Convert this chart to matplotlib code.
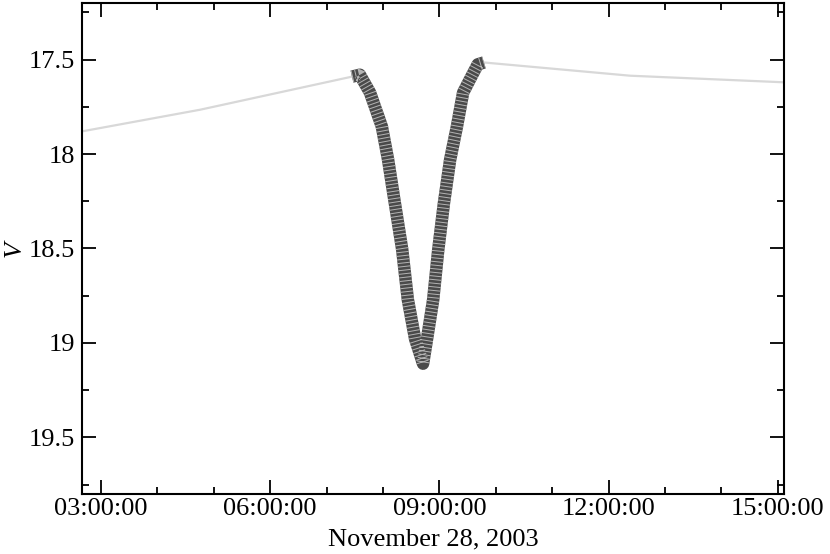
import matplotlib
matplotlib.use("Agg")
import matplotlib.pyplot as plt
from matplotlib.ticker import MultipleLocator, FuncFormatter
import numpy as np

# time in hours (UT, Nov 28 2003), V magnitude
t_pre = [2.66, 4.76, 7.45]
v_pre = [17.88, 17.765, 17.59]

t_ecl = [7.45, 7.59, 7.77, 7.98, 8.09, 8.21, 8.34, 8.44, 8.57, 8.71,
         8.78, 8.89, 8.98, 9.08, 9.19, 9.31, 9.42, 9.54, 9.68, 9.79]
v_ecl = [17.59, 17.58, 17.675, 17.855, 18.03, 18.26, 18.505, 18.77, 18.98, 19.11,
         18.98, 18.77, 18.505, 18.26, 18.03, 17.855, 17.675, 17.605, 17.525, 17.515]

t_post = [9.79, 12.38, 15.11]
v_post = [17.515, 17.585, 17.62]

plt.rcParams['font.family'] = ['Liberation Serif', 'DejaVu Serif']
plt.rcParams['lines.scale_dashes'] = False

fig = plt.figure(figsize=(8.3, 5.54), dpi=100)
ax = fig.add_axes([0.0988, 0.1083, 0.8458, 0.8863])

ax.plot(t_pre, v_pre, color='#d8d8d8', lw=1.6)
ax.plot(t_post, v_post, color='#d8d8d8', lw=1.6)
# eclipse: dark thick band with light stripes
ax.plot(t_ecl, v_ecl, color='#4a4a4a', lw=9, solid_joinstyle='round',
        solid_capstyle='butt')
ax.plot(t_ecl, v_ecl, color='#b4b4b4', lw=9, dashes=(0.7, 1.9),
        dash_joinstyle='bevel', dash_capstyle='butt')

ax.set_xlim(2.663, 15.11)
ax.set_ylim(19.8, 17.2)

def hms(x, pos):
    h = int(round(x * 3600))
    return "%02d:%02d:%02d" % (h // 3600, (h % 3600) // 60, h % 60)

ax.xaxis.set_major_locator(MultipleLocator(3))
ax.xaxis.set_minor_locator(MultipleLocator(1))
ax.xaxis.set_major_formatter(FuncFormatter(hms))
ax.yaxis.set_major_locator(MultipleLocator(0.5))
ax.yaxis.set_minor_locator(MultipleLocator(0.25))
ax.yaxis.set_major_formatter(FuncFormatter(lambda v, p: ('%g' % v)))

ax.tick_params(which='both', direction='in', top=True, right=True, width=1.3)
ax.tick_params(which='major', length=10, labelsize=19)
ax.tick_params(axis='x', which='major', pad=3)
ax.tick_params(axis='y', which='major', pad=5)
ax.tick_params(which='minor', length=5)
for s in ax.spines.values():
    s.set_linewidth(1.5)

ax.set_xlabel('November 28, 2003', fontsize=19, labelpad=6)
ax.set_ylabel('V', fontsize=19, style='italic', labelpad=2)

fig.savefig('out.png', dpi=100)
